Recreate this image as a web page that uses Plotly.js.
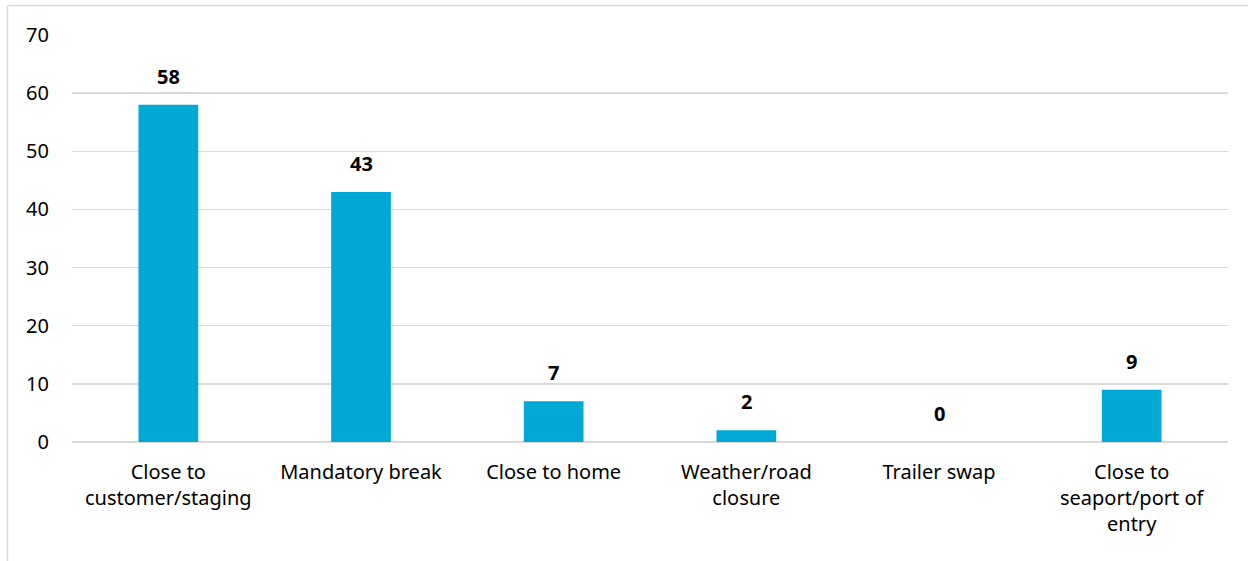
<!DOCTYPE html>
<html>
<head>
<meta charset="utf-8">
<script src="https://cdn.plot.ly/plotly-3.0.1.min.js"></script>
<style>html,body{margin:0;padding:0;background:#fff;}#chart{width:1248px;height:561px;}</style>
</head>
<body>
<div id="chart"></div>
<script>
const categories = ["Close to<br>customer/staging", "Mandatory break", "Close to home", "Weather/road<br>closure", "Trailer swap", "Close to<br>seaport/port of<br>entry"];
const values = [58, 43, 7, 2, 0, 9];
const yTicks = [0, 10, 20, 30, 40, 50, 60, 70];

const barColor = "#00A8D6";
const gridColor = "#D9D9D9";
const fontFamily = "Noto Sans, Lato, sans-serif";

const trace = {
  type: "bar",
  x: categories,
  y: values,
  marker: {color: barColor},
  width: 0.31,
  hoverinfo: "skip"
};

const annotations = categories.map((c, i) => ({
  x: c, y: values[i], xref: "x", yref: "y",
  text: "<b>" + values[i] + "</b>",
  showarrow: false, yanchor: "bottom", yshift: 13,
  font: {family: fontFamily, size: 20, color: "#000"}
}));

const layout = {
  width: 1248, height: 561,
  margin: {l: 72, r: 20, t: 35, b: 119},
  paper_bgcolor: "#fff", plot_bgcolor: "#fff",
  showlegend: false,
  bargap: 0.69,
  font: {family: fontFamily, size: 20, color: "#000"},
  xaxis: {
    type: "category",
    showgrid: false, zeroline: false, showline: false,
    ticks: "", ticklabelstandoff: 16,
    tickfont: {family: fontFamily, size: 20, color: "#000"}
  },
  yaxis: {
    range: [0, 70], tickvals: yTicks, ticktext: yTicks.map(String),
    showgrid: true, gridcolor: gridColor, gridwidth: 1.5,
    zeroline: true, zerolinecolor: gridColor, zerolinewidth: 1.5,
    showline: false, ticks: "", ticklabelstandoff: 22,
    tickfont: {family: fontFamily, size: 20, color: "#000"}
  },
  annotations: annotations,
  shapes: [
    {type: "line", xref: "paper", yref: "paper", x0: (7.5-72)/1156, x1: (7.5-72)/1156, y0: -1.2, y1: (442-5.5)/407, line: {color: gridColor, width: 1.5}},
    {type: "line", xref: "paper", yref: "paper", x0: (7.5-72)/1156, x1: 1.1, y0: (442-5.5)/407, y1: (442-5.5)/407, line: {color: gridColor, width: 1.5}}
  ]
};

Plotly.newPlot("chart", [trace], layout, {displayModeBar: false, staticPlot: true});
</script>
</body>
</html>
